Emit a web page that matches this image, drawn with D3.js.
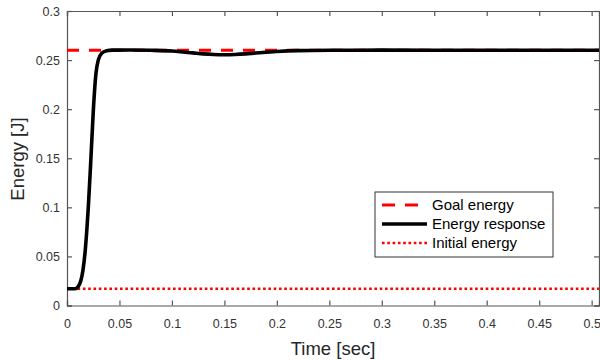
<!DOCTYPE html>
<html>
<head>
<meta charset="utf-8">
<script src="https://cdn.jsdelivr.net/npm/d3@7"></script>
<style>
  html, body { margin: 0; padding: 0; background: #fff; }
  svg { display: block; font-family: "Liberation Sans", Arial, sans-serif; }
</style>
</head>
<body>
<div id="chart"></div>
<script>
// Energy response
const time = [0, 0.0076, 0.0105, 0.0131, 0.0152, 0.0172, 0.0189, 0.0203, 0.0228, 0.0251,
  0.0276, 0.0298, 0.0331, 0.0378, 0.043, 0.06, 0.08, 0.10, 0.11, 0.12, 0.13, 0.14,
  0.15, 0.16, 0.17, 0.18, 0.19, 0.20, 0.22, 0.25, 0.30, 0.40, 0.507];
const energy = [0.017, 0.017, 0.019, 0.025, 0.036, 0.054, 0.077, 0.100, 0.150, 0.199,
  0.2365, 0.250, 0.257, 0.2595, 0.2601, 0.2603, 0.2600, 0.2592, 0.2583, 0.2573, 0.2563, 0.2557,
  0.2555, 0.2557, 0.2563, 0.2572, 0.2580, 0.2587, 0.2596, 0.2600, 0.2601, 0.2600, 0.2600];
const goalEnergy = 0.26;
const initialEnergy = 0.017;
const xTicks = [0, 0.05, 0.1, 0.15, 0.2, 0.25, 0.3, 0.35, 0.4, 0.45, 0.5];
const yTicks = [0, 0.05, 0.1, 0.15, 0.2, 0.25, 0.3];
const legendLabels = ['Goal energy', 'Energy response', 'Initial energy'];

const W = 600, H = 360;
const m = { left: 67, right: 1, top: 11, bottom: 54.5 };

const svg = d3.select('#chart').append('svg')
  .attr('width', W).attr('height', H);

const x = d3.scaleLinear().domain([0, 0.507]).range([m.left, W - m.right]);
const y = d3.scaleLinear().domain([0, 0.3]).range([H - m.bottom, m.top]);

const axisColor = '#555';
const fmt = d => d === 0 ? '0' : String(d);

// axes with inward ticks, box all round
const gx = svg.append('g').attr('transform', `translate(0,${y(0)})`)
  .call(d3.axisBottom(x).tickValues(xTicks).tickSize(-5).tickPadding(14).tickFormat(fmt));
const gxTop = svg.append('g').attr('transform', `translate(0,${y(0.3)})`)
  .call(d3.axisTop(x).tickValues(xTicks).tickSize(-5).tickFormat(''));
const gy = svg.append('g').attr('transform', `translate(${x(0)},0)`)
  .call(d3.axisLeft(y).tickValues(yTicks).tickSize(-5).tickPadding(7).tickFormat(fmt));
const gyRight = svg.append('g').attr('transform', `translate(${x(0.507)},0)`)
  .call(d3.axisRight(y).tickValues(yTicks).tickSize(-5).tickFormat(''));

[gx, gxTop, gy, gyRight].forEach(g => {
  g.select('.domain').attr('stroke', axisColor).attr('stroke-width', 1.2);
  g.selectAll('.tick line').attr('stroke', axisColor).attr('stroke-width', 1.2);
  g.selectAll('.tick text').attr('fill', '#333').attr('font-size', 12.5)
    .attr('font-family', '"Liberation Sans", Arial, sans-serif');
});

// goal / initial reference lines
svg.append('line')
  .attr('x1', x(0)).attr('x2', x(0.507))
  .attr('y1', y(goalEnergy)).attr('y2', y(goalEnergy))
  .attr('stroke', '#ff0000').attr('stroke-width', 3)
  .attr('stroke-dasharray', '12,10');

svg.append('line')
  .attr('x1', x(0)).attr('x2', x(0.507))
  .attr('y1', y(initialEnergy)).attr('y2', y(initialEnergy))
  .attr('stroke', '#ff0000').attr('stroke-width', 2.6)
  .attr('stroke-dasharray', '2.6,2.7');

// response curve
const line = d3.line()
  .x((d, i) => x(time[i]))
  .y(d => y(d))
  .curve(d3.curveMonotoneX);

svg.append('path')
  .datum(energy)
  .attr('d', line)
  .attr('fill', 'none')
  .attr('stroke', '#000')
  .attr('stroke-width', 3.6)
  .attr('stroke-linejoin', 'round');

// axis titles
svg.append('text')
  .attr('x', 333).attr('y', 355)
  .attr('text-anchor', 'middle')
  .attr('font-size', 18.5).attr('fill', '#262626')
  .text('Time [sec]');

svg.append('text')
  .attr('transform', 'translate(24,159) rotate(-90)')
  .attr('text-anchor', 'middle')
  .attr('font-size', 18.5).attr('fill', '#262626')
  .text('Energy [J]');

// legend
const lg = svg.append('g').attr('transform', 'translate(375,192)');
lg.append('rect')
  .attr('width', 178).attr('height', 65)
  .attr('fill', '#fff').attr('stroke', '#333').attr('stroke-width', 1);

const legendStyles = [
  { stroke: '#ff0000', width: 3, dash: '13,10' },
  { stroke: '#000', width: 3.6, dash: null },
  { stroke: '#ff0000', width: 2.6, dash: '2.6,2.7' }
];

legendLabels.forEach((label, i) => {
  const cy = 13 + i * 19;
  const s = legendStyles[i];
  lg.append('line')
    .attr('x1', 7).attr('x2', 52)
    .attr('y1', cy).attr('y2', cy)
    .attr('stroke', s.stroke).attr('stroke-width', s.width)
    .attr('stroke-dasharray', s.dash);
  lg.append('text')
    .attr('x', 57).attr('y', cy + 5)
    .attr('font-size', 15).attr('fill', '#000')
    .text(label);
});
</script>
</body>
</html>
